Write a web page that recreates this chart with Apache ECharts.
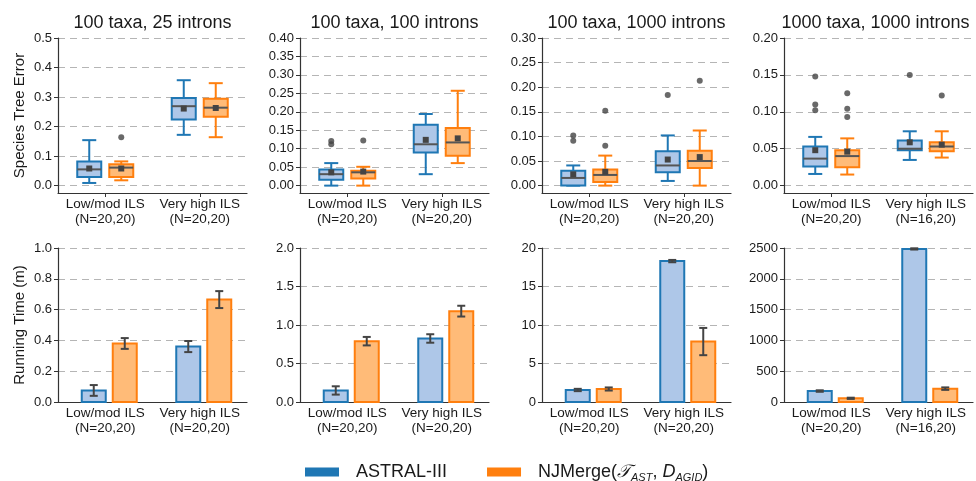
<!DOCTYPE html>
<html><head><meta charset="utf-8">
<script src="https://cdn.jsdelivr.net/npm/echarts@6/dist/echarts.min.js"></script>
<style>html,body{margin:0;padding:0;background:#fff}#c{width:976px;height:481px}</style>
</head><body><div id="c"></div><script>
// ---------- data ----------
const titles = ['100 taxa, 25 introns', '100 taxa, 100 introns', '100 taxa, 1000 introns', '1000 taxa, 1000 introns'];
const catsA = ['Low/mod ILS\n(N=20,20)', 'Very high ILS\n(N=20,20)'];
const catsB = ['Low/mod ILS\n(N=20,20)', 'Very high ILS\n(N=16,20)'];
const panelCats = [catsA, catsA, catsA, catsB];

const errMin = [-0.025, -0.02, -0.015, -0.01];
const errMax = [0.5, 0.4, 0.3, 0.2];
const errTicks = [
  [0, 0.1, 0.2, 0.3, 0.4, 0.5],
  [0, 0.05, 0.1, 0.15, 0.2, 0.25, 0.3, 0.35, 0.4],
  [0, 0.05, 0.1, 0.15, 0.2, 0.25, 0.3],
  [0, 0.05, 0.1, 0.15, 0.2]
];
const errDecimals = [1, 2, 2, 2];
const timeMax = [1, 2, 20, 2500];
const timeInterval = [0.2, 0.5, 5, 500];
const timeDecimals = [1, 1, 0, 0];

// box stats per category: [whiskerLow, q1, median, q3, whiskerHigh, mean]
const astralErr25 = [[0.009, 0.029, 0.055, 0.082, 0.154, 0.058], [0.172, 0.224, 0.269, 0.297, 0.357, 0.261]];
const njErr25 = [[0.018, 0.029, 0.061, 0.072, 0.082, 0.058], [0.164, 0.233, 0.264, 0.294, 0.347, 0.263]];
const astralErr100 = [[0.0, 0.016, 0.031, 0.0435, 0.061, 0.036], [0.031, 0.090, 0.112, 0.165, 0.194, 0.124]];
const njErr100 = [[0.0, 0.019, 0.036, 0.040, 0.051, 0.038], [0.061, 0.081, 0.117, 0.156, 0.257, 0.128]];
const astralErr1000 = [[0.0, 0.0, 0.0156, 0.030, 0.041, 0.023], [0.0095, 0.027, 0.041, 0.070, 0.102, 0.053]];
const njErr1000 = [[0.0, 0.0074, 0.0217, 0.033, 0.061, 0.028], [0.0, 0.036, 0.050, 0.071, 0.112, 0.058]];
const astralErrBig = [[0.0158, 0.026, 0.0366, 0.053, 0.066, 0.048], [0.0348, 0.048, 0.050, 0.061, 0.0736, 0.0587]];
const njErrBig = [[0.015, 0.025, 0.040, 0.048, 0.064, 0.046], [0.038, 0.0465, 0.053, 0.0587, 0.0736, 0.0555]];

// outliers: [categoryIndex, value]
const astralOut25 = [];
const njOut25 = [[0, 0.164]];
const astralOut100 = [[0, 0.112], [0, 0.121]];
const njOut100 = [[0, 0.122]];
const astralOut1000 = [[0, 0.091], [0, 0.102], [1, 0.184]];
const njOut1000 = [[0, 0.081], [0, 0.152], [1, 0.213]];
const astralOutBig = [[0, 0.102], [0, 0.110], [0, 0.148], [1, 0.150]];
const njOutBig = [[0, 0.093], [0, 0.104], [0, 0.125], [1, 0.122]];

// running time per category: [mean, sd]
const astralTime25 = [[0.075, 0.035], [0.36, 0.036]];
const njTime25 = [[0.38, 0.035], [0.665, 0.055]];
const astralTime100 = [[0.15, 0.054], [0.825, 0.055]];
const njTime100 = [[0.79, 0.055], [1.18, 0.07]];
const astralTime1000 = [[1.56, 0.15], [18.3, 0.15]];
const njTime1000 = [[1.69, 0.2], [7.85, 1.77]];
const astralTimeBig = [[178, 12], [2485, 10]];
const njTimeBig = [[60, 10], [217, 20]];

const astralErr = [astralErr25, astralErr100, astralErr1000, astralErrBig];
const njErr = [njErr25, njErr100, njErr1000, njErrBig];
const astralOut = [astralOut25, astralOut100, astralOut1000, astralOutBig];
const njOut = [njOut25, njOut100, njOut1000, njOutBig];
const astralTime = [astralTime25, astralTime100, astralTime1000, astralTimeBig];
const njTime = [njTime25, njTime100, njTime1000, njTimeBig];

// ---------- styling ----------
const FONT = 'Liberation Sans, Arial, Helvetica, sans-serif';
const BLUE = '#1f77b4', BLUE_F = '#aec7e8', ORANGE = '#ff7f0e', ORANGE_F = '#ffbb78';
const AXIS = '#333', TXT = '#1a1a1a';
const lefts = [58, 300, 542, 784];
const W = 189;

function boxRender(dx, edge, fill) {
  return function (params, api) {
    const k = api.value(0);
    const v = [1, 2, 3, 4, 5, 6].map(j => api.value(j));
    const cx = api.coord([k, v[2]])[0] + dx;
    const y = val => api.coord([k, val])[1];
    const hw = 12, cap = 7;
    const ls = { stroke: edge, lineWidth: 2 };
    const yL = y(v[0]), y1 = y(v[1]), yM = y(v[2]), y3 = y(v[3]), yH = y(v[4]), yMe = y(v[5]);
    return { type: 'group', children: [
      { type: 'line', shape: { x1: cx, y1: yL, x2: cx, y2: y1 }, style: ls },
      { type: 'line', shape: { x1: cx, y1: y3, x2: cx, y2: yH }, style: ls },
      { type: 'line', shape: { x1: cx - cap, y1: yL, x2: cx + cap, y2: yL }, style: ls },
      { type: 'line', shape: { x1: cx - cap, y1: yH, x2: cx + cap, y2: yH }, style: ls },
      { type: 'rect', shape: { x: cx - hw, y: y3, width: 2 * hw, height: y1 - y3 }, style: { fill: fill, stroke: edge, lineWidth: 2 } },
      { type: 'line', shape: { x1: cx - hw, y1: yM, x2: cx + hw, y2: yM }, style: { stroke: '#555', lineWidth: 2 } },
      { type: 'rect', shape: { x: cx - 3, y: yMe - 3, width: 6, height: 6 }, style: { fill: '#444' } }
    ] };
  };
}
function barRender(dx, edge, fill) {
  return function (params, api) {
    const k = api.value(0), m = api.value(1), sd = api.value(2);
    const top = api.coord([k, m]);
    const base = api.coord([k, 0]);
    const cx = top[0] + dx, hw = 12, cap = 4;
    const yHi = api.coord([k, m + sd])[1], yLo = api.coord([k, m - sd])[1];
    const es = { stroke: '#444', lineWidth: 2 };
    return { type: 'group', children: [
      { type: 'rect', shape: { x: cx - hw, y: top[1], width: 2 * hw, height: base[1] - top[1] }, style: { fill: fill, stroke: edge, lineWidth: 2 } },
      { type: 'line', shape: { x1: cx, y1: yLo, x2: cx, y2: yHi }, style: es },
      { type: 'line', shape: { x1: cx - cap, y1: yLo, x2: cx + cap, y2: yLo }, style: es },
      { type: 'line', shape: { x1: cx - cap, y1: yHi, x2: cx + cap, y2: yHi }, style: es }
    ] };
  };
}

const grid = [], xAxis = [], yAxis = [], series = [], title = [];
const titleShift = [-5, -5, -5, -8];
for (let i = 0; i < 4; i++) {
  title.push({ text: titles[i], left: lefts[i] + W / 2 + titleShift[i], top: 9, textAlign: 'center',
    textStyle: { fontFamily: FONT, fontSize: 18, fontWeight: 'normal', color: TXT } });
  grid.push({ left: lefts[i], top: 38, width: W, height: 155, outerBoundsMode: 'none' });
}
for (let i = 0; i < 4; i++) {
  grid.push({ left: lefts[i], top: 248, width: W, height: 154, outerBoundsMode: 'none' });
}
for (let g = 0; g < 8; g++) {
  const i = g % 4, isTop = g < 4;
  xAxis.push({ gridIndex: g, type: 'category', data: panelCats[i],
    axisLine: { show: true, onZero: false, lineStyle: { color: AXIS, width: 1.2 } },
    axisTick: { show: isTop, alignWithLabel: true, length: 4, lineStyle: { color: AXIS } },
    axisLabel: { fontFamily: FONT, fontSize: 13.5, lineHeight: 15, color: TXT, margin: 4, interval: 0 },
    splitLine: { show: false } });
  const yBase = {
    gridIndex: g, type: 'value',
    axisLine: { show: true, lineStyle: { color: AXIS, width: 1.2 } },
    splitLine: { show: true, lineStyle: { type: [7, 5], color: '#b5b5b5', width: 1 } },
    nameLocation: 'middle', nameGap: 31,
    nameTextStyle: { fontFamily: FONT, fontSize: 15, color: TXT }
  };
  if (isTop) {
    Object.assign(yBase, { min: errMin[i], max: errMax[i],
      axisTick: { show: true, length: 4, customValues: errTicks[i], lineStyle: { color: AXIS } },
      axisLabel: { customValues: errTicks[i], formatter: v => v.toFixed(errDecimals[i]), fontFamily: FONT, fontSize: 13, color: TXT, margin: 6 },
      name: i === 0 ? 'Species Tree Error' : '' });
  } else {
    Object.assign(yBase, { min: 0, max: timeMax[i], interval: timeInterval[i],
      axisTick: { show: true, length: 4, lineStyle: { color: AXIS } },
      axisLabel: { formatter: v => v.toFixed(timeDecimals[i]), fontFamily: FONT, fontSize: 13, color: TXT, margin: 6 },
      name: i === 0 ? 'Running Time (m)' : '' });
  }
  yAxis.push(yBase);
}
for (let i = 0; i < 4; i++) {
  series.push({ type: 'custom', name: 'ASTRAL-III', xAxisIndex: i, yAxisIndex: i, renderItem: boxRender(-16, BLUE, BLUE_F),
    data: astralErr[i].map((s, k) => [k].concat(s)), encode: { x: 0, y: [1, 2, 3, 4, 5, 6] }, itemStyle: { color: BLUE } });
  series.push({ type: 'custom', name: 'NJMerge', xAxisIndex: i, yAxisIndex: i, renderItem: boxRender(16, ORANGE, ORANGE_F),
    data: njErr[i].map((s, k) => [k].concat(s)), encode: { x: 0, y: [1, 2, 3, 4, 5, 6] }, itemStyle: { color: ORANGE } });
  series.push({ type: 'scatter', name: 'out-a', xAxisIndex: i, yAxisIndex: i, data: astralOut[i], symbol: 'circle', symbolSize: 6, symbolOffset: [-16, 0], itemStyle: { color: '#444' } });
  series.push({ type: 'scatter', name: 'out-n', xAxisIndex: i, yAxisIndex: i, data: njOut[i], symbol: 'circle', symbolSize: 6, symbolOffset: [16, 0], itemStyle: { color: '#444' } });
  series.push({ type: 'custom', name: 'ASTRAL-III', xAxisIndex: 4 + i, yAxisIndex: 4 + i, renderItem: barRender(-11.5, BLUE, BLUE_F),
    data: astralTime[i].map((s, k) => [k].concat(s)), encode: { x: 0, y: 1 }, itemStyle: { color: BLUE } });
  series.push({ type: 'custom', name: 'NJMerge', xAxisIndex: 4 + i, yAxisIndex: 4 + i, renderItem: barRender(19.5, ORANGE, ORANGE_F),
    data: njTime[i].map((s, k) => [k].concat(s)), encode: { x: 0, y: 1 }, itemStyle: { color: ORANGE } });
}

const chart = echarts.init(document.getElementById('c'), null, { renderer: 'canvas' });
chart.setOption({
  animation: false,
  backgroundColor: '#fff',
  title: title,
  grid: grid, xAxis: xAxis, yAxis: yAxis, series: series,
  legend: {
    left: 300, top: 456, icon: 'rect', itemWidth: 34, itemHeight: 9, itemGap: 40,
    data: [{ name: 'ASTRAL-III', itemStyle: { color: BLUE, borderWidth: 0 } },
           { name: 'NJMerge', itemStyle: { color: ORANGE, borderWidth: 0 } }],
    formatter: function (name) {
      return name === 'NJMerge' ? 'NJMerge({cal|𝒯}{sub|AST}, {it|D}{sub|AGID})' : name;
    },
    textStyle: { fontFamily: FONT, fontSize: 18, color: TXT, lineHeight: 22, padding: [0, 0, 0, 12],
      rich: {
        cal: { fontFamily: 'DejaVu Sans, DejaVu Serif, serif', fontSize: 18, fontStyle: 'italic', color: TXT, lineHeight: 22 },
        it: { fontFamily: FONT, fontSize: 18, fontStyle: 'italic', color: TXT, lineHeight: 22 },
        sub: { fontFamily: FONT, fontSize: 11, fontStyle: 'italic', color: TXT, lineHeight: 11, verticalAlign: 'bottom' }
      } }
  }
});
</script></body></html>
